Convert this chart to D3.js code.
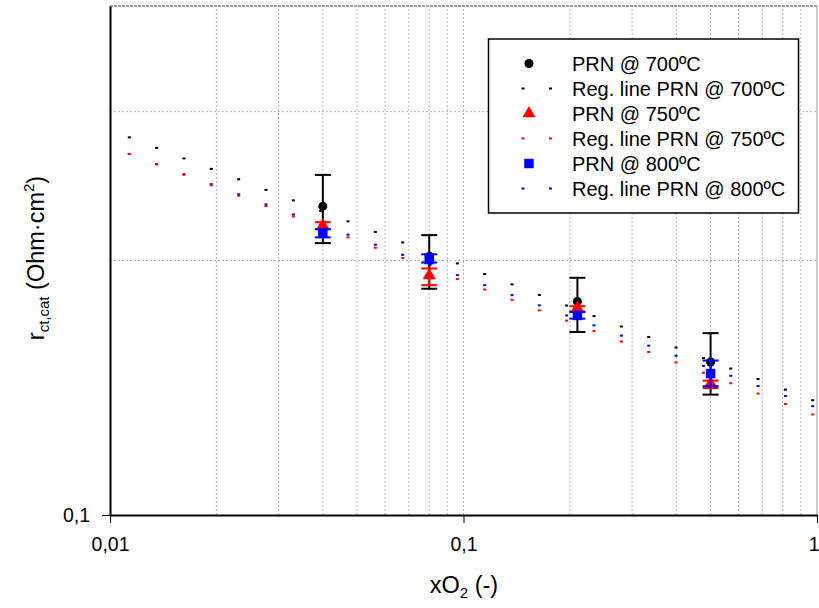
<!DOCTYPE html>
<html lang="en">
<head>
    <meta charset="UTF-8">
    <title>rct,cat vs xO2</title>
    <script src="https://d3js.org/d3.v7.min.js"></script>
    <style>
        html, body {
            margin: 0;
            background: white;
            font-family: "Liberation Sans", Arial, sans-serif;
        }
        .axis path, .axis line {
            stroke: black;
        }
    </style>
</head>
<body>
    <div id="vis"></div>
    <script>

        // regression line sample points
        var regX = [0.01134, 0.01355, 0.01619, 0.01934, 0.02312, 0.02762, 0.03301, 0.03944, 0.04713,
                    0.05632, 0.06730, 0.08042, 0.09609, 0.1148, 0.1372, 0.1639, 0.1958, 0.2340,
                    0.2796, 0.3341, 0.3992, 0.4772, 0.5701, 0.6812, 0.8142, 0.9725];
        var reg700 = [0.2797, 0.2718, 0.2641, 0.2567, 0.2495, 0.2424, 0.2356, 0.2289, 0.2225,
                      0.2162, 0.2101, 0.2042, 0.1984, 0.1928, 0.1874, 0.1821, 0.1769, 0.1719,
                      0.1671, 0.1624, 0.1578, 0.1533, 0.1490, 0.1448, 0.1407, 0.1367];
        var reg750 = [0.2673, 0.2598, 0.2526, 0.2455, 0.2386, 0.2319, 0.2255, 0.2191, 0.2130,
                      0.2071, 0.2013, 0.1956, 0.1902, 0.1848, 0.1797, 0.1746, 0.1698, 0.1650,
                      0.1604, 0.1559, 0.1515, 0.1473, 0.1432, 0.1392, 0.1353, 0.1315];
        var reg800 = [0.2673, 0.2601, 0.2530, 0.2462, 0.2395, 0.2330, 0.2267, 0.2205, 0.2146,
                      0.2088, 0.2031, 0.1976, 0.1922, 0.1870, 0.1820, 0.1770, 0.1722, 0.1676,
                      0.1630, 0.1586, 0.1543, 0.1501, 0.1461, 0.1421, 0.1383, 0.1345];

        // measured points with error bars
        var xO2 = [0.04, 0.08, 0.21, 0.5];
        var prn700 = [0.2319, 0.2022, 0.1789, 0.1517];
        var prn700Hi = [0.2525, 0.2143, 0.1908, 0.1641];
        var prn700Lo = [0.2097, 0.1852, 0.1646, 0.1388];
        var prn750 = [0.2200, 0.1920, 0.1757, 0.1430];
        var prn750Hi = [0.2220, 0.1957, 0.1766, 0.1442];
        var prn750Lo = [0.2180, 0.1870, 0.1741, 0.1413];
        var prn800 = [0.2156, 0.2005, 0.1722, 0.1470];
        var prn800Hi = [0.2177, 0.2034, 0.1738, 0.1523];
        var prn800Lo = [0.2130, 0.1989, 0.1707, 0.1420];

        var xTicks = [0.01, 0.1, 1];
        var yTicks = [0.1];
        var xMinor = [0.02, 0.03, 0.04, 0.05, 0.06, 0.07, 0.08, 0.09, 0.1,
                      0.2, 0.3, 0.4, 0.5, 0.6, 0.7, 0.8, 0.9];
        var yMinor = [0.2, 0.3];

        var legendLabels = ['PRN @ 700ºC', 'Reg. line PRN @ 700ºC', 'PRN @ 750ºC',
                            'Reg. line PRN @ 750ºC', 'PRN @ 800ºC', 'Reg. line PRN @ 800ºC'];

        var width = 819, height = 608;
        var margin = {left: 110, right: 2, top: 6, bottom: 93};

        var svg = d3.select('#vis')
                    .append('svg')
                        .attr('width', width)
                        .attr('height', height);

        var x = d3.scaleLog()
                  .domain([0.01, 1])
                  .range([margin.left, width - margin.right]);

        var y = d3.scaleLog()
                  .domain([0.1, 0.4])
                  .range([height - margin.bottom, margin.top]);

        // grid
        svg.append('g').selectAll('line')
            .data(xMinor)
            .enter().append('line')
                .attr('x1', function(d){ return x(d); })
                .attr('x2', function(d){ return x(d); })
                .attr('y1', y(0.1))
                .attr('y2', y(0.4))
                .attr('stroke', '#b4b4b4')
                .attr('stroke-dasharray', '2,2');

        svg.append('g').selectAll('line')
            .data(yMinor)
            .enter().append('line')
                .attr('x1', x(0.01))
                .attr('x2', x(1))
                .attr('y1', function(d){ return y(d); })
                .attr('y2', function(d){ return y(d); })
                .attr('stroke', '#b4b4b4')
                .attr('stroke-dasharray', '2,2');

        // top and right edge
        svg.append('line')
            .attr('x1', x(0.01)).attr('x2', x(1))
            .attr('y1', y(0.4)).attr('y2', y(0.4))
            .attr('stroke', '#444')
            .attr('stroke-dasharray', '3,1');
        svg.append('line')
            .attr('x1', x(1)).attr('x2', x(1))
            .attr('y1', y(0.4)).attr('y2', y(0.1))
            .attr('stroke', '#999');

        // regression lines, drawn as short dashes
        var regSeries = [
            {vals: reg700, colour: 'black'},
            {vals: reg800, colour: 'blue'},
            {vals: reg750, colour: 'red'}
        ];
        regSeries.forEach(function(s){
            svg.append('g').selectAll('rect')
                .data(regX)
                .enter().append('rect')
                    .attr('x', function(d){ return x(d) - 1.5; })
                    .attr('y', function(d, i){ return y(s.vals[i]) - 1; })
                    .attr('width', 3)
                    .attr('height', 2)
                    .attr('fill', s.colour);
        });

        var triangle = d3.symbol().type(d3.symbolTriangle).size(75);
        var square = d3.symbol().type(d3.symbolSquare).size(90);

        var pointSeries = [
            {vals: prn700, hi: prn700Hi, lo: prn700Lo, colour: 'black', shape: 'circle'},
            {vals: prn750, hi: prn750Hi, lo: prn750Lo, colour: 'red', shape: 'triangle'},
            {vals: prn800, hi: prn800Hi, lo: prn800Lo, colour: 'blue', shape: 'square'}
        ];

        function drawMarker(g, shape, colour){
            if(shape === 'circle') {
                g.append('circle').attr('r', 4.5).attr('fill', colour);
            } else if(shape === 'triangle') {
                g.append('path').attr('d', triangle()).attr('fill', colour);
            } else {
                g.append('path').attr('d', square()).attr('fill', colour);
            }
        }

        pointSeries.forEach(function(s){
            var g = svg.append('g');
            xO2.forEach(function(d, i){
                var cx = x(d);
                g.append('line')
                    .attr('x1', cx).attr('x2', cx)
                    .attr('y1', y(s.hi[i])).attr('y2', y(s.lo[i]))
                    .attr('stroke', s.colour).attr('stroke-width', 2);
                [s.hi[i], s.lo[i]].forEach(function(v){
                    g.append('line')
                        .attr('x1', cx - 8).attr('x2', cx + 8)
                        .attr('y1', y(v)).attr('y2', y(v))
                        .attr('stroke', s.colour).attr('stroke-width', 2);
                });
                var m = g.append('g')
                    .attr('transform', 'translate(' + cx + ',' + y(s.vals[i]) + ')');
                drawMarker(m, s.shape, s.colour);
            });
        });

        // axes
        var fmt = function(d){ return String(d).replace('.', ','); };

        svg.append('g')
            .attr('class', 'axis')
            .attr('transform', 'translate(0,' + y(0.1) + ')')
            .call(d3.axisBottom(x).tickValues(xTicks).tickFormat(fmt).tickSize(8).tickSizeOuter(0).tickPadding(14))
            .call(function(g){
                g.select('.domain').attr('stroke-width', 2);
                g.selectAll('text').attr('font-size', '19.5px').attr('font-family', 'Liberation Sans, Arial, sans-serif').attr('fill', 'black');
                // the last label sits at the right edge, keep it inside
                g.selectAll('text').filter(function(d){ return d === 1; })
                    .attr('text-anchor', 'end').attr('dx', 2);
            });

        svg.append('g')
            .attr('class', 'axis')
            .attr('transform', 'translate(' + x(0.01) + ',0)')
            .call(d3.axisLeft(y).tickValues(yTicks).tickFormat(fmt).tickSize(8).tickSizeOuter(0).tickPadding(12))
            .call(function(g){
                g.select('.domain').attr('stroke-width', 2);
                g.selectAll('text').attr('font-size', '19.5px').attr('font-family', 'Liberation Sans, Arial, sans-serif').attr('fill', 'black');
            });

        // axis titles
        var xt = svg.append('text')
            .attr('x', 464)
            .attr('y', 593)
            .attr('text-anchor', 'middle')
            .attr('font-size', '23.5px');
        xt.append('tspan').text('xO');
        xt.append('tspan').attr('font-size', '15px').attr('dy', 5).text('2');
        xt.append('tspan').attr('dy', -5).text(' (-)');

        var yt = svg.append('text')
            .attr('transform', 'translate(44,258)rotate(-90)')
            .attr('text-anchor', 'middle')
            .attr('font-size', '23.5px');
        yt.append('tspan').text('r');
        yt.append('tspan').attr('font-size', '15px').attr('dy', 5).text('ct,cat');
        yt.append('tspan').attr('dy', -5).text(' (Ohm·cm');
        yt.append('tspan').attr('font-size', '15px').attr('dy', -10).text('2');
        yt.append('tspan').attr('dy', 10).text(')');

        // legend
        var legend = svg.append('g');
        legend.append('rect')
            .attr('x', 488.5).attr('y', 39)
            .attr('width', 310).attr('height', 174)
            .attr('fill', 'white')
            .attr('stroke', 'black')
            .attr('stroke-width', 1.5);

        var legendColours = ['black', 'black', 'red', 'red', 'blue', 'blue'];
        var legendShapes = ['circle', null, 'triangle', null, 'square', null];

        legendLabels.forEach(function(lab, i){
            var cy = 63.5 + i * 25;
            if(legendShapes[i]) {
                var m = legend.append('g').attr('transform', 'translate(529,' + cy + ')');
                drawMarker(m, legendShapes[i], legendColours[i]);
            } else {
                [523, 550.5].forEach(function(px){
                    legend.append('rect')
                        .attr('x', px - 1.5).attr('y', cy - 1)
                        .attr('width', 3).attr('height', 2)
                        .attr('fill', legendColours[i]);
                });
            }
            legend.append('text')
                .attr('x', 572)
                .attr('y', cy + 7)
                .attr('font-size', '20px')
                .text(lab);
        });

    </script>
</body>
</html>
